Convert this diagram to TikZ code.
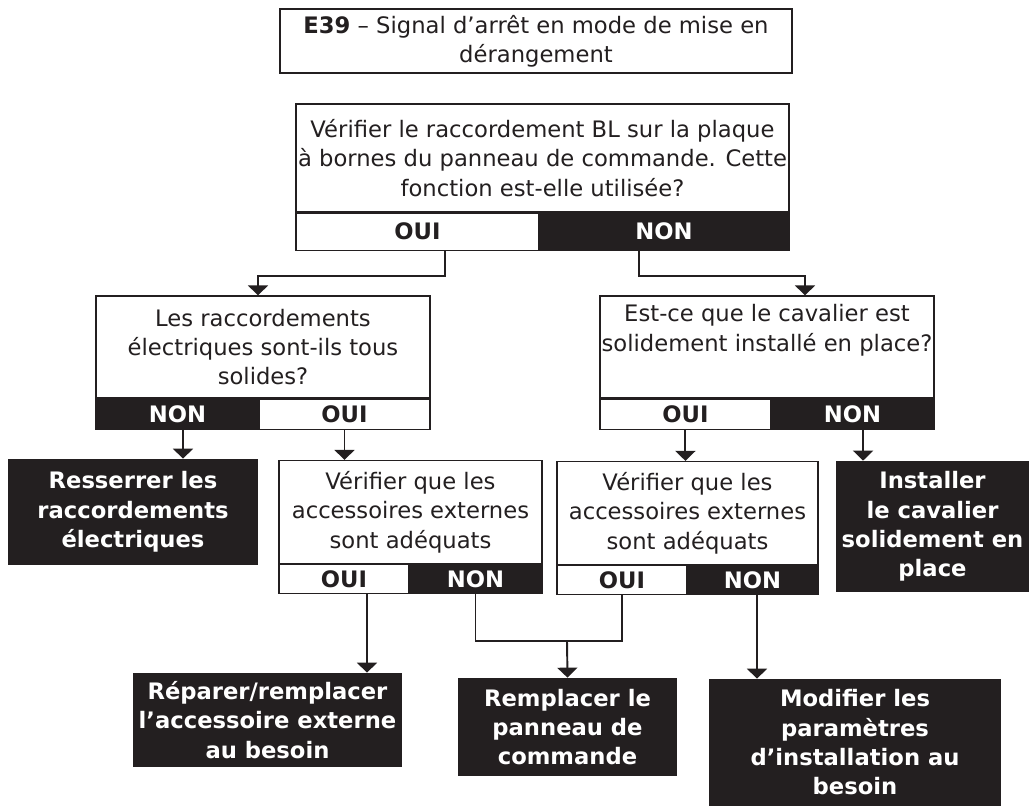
\documentclass[tikz,border=0pt]{standalone}
\usepackage{fontspec}
\setmainfont{DejaVu Sans}
\usepackage{xcolor}
\definecolor{panelblack}{RGB}{35,31,32}
\usepackage{tikz}
\usetikzlibrary{arrows.meta, positioning, calc}

\begin{document}
\begin{tikzpicture}[
  box/.style={draw=panelblack, line width=0.7pt, fill=white, align=center, inner xsep=1pt, inner ysep=0pt, font=\fontsize{12.9}{16.7}\selectfont, text=panelblack},
  act/.style={fill=panelblack, align=center, inner sep=0pt, font=\fontsize{12.9}{16.7}\selectfont\bfseries, text=white},
  oui/.style={draw=panelblack, line width=0.7pt, fill=white, inner sep=0pt, font=\fontsize{12.9}{16.7}\selectfont\bfseries, text=panelblack},
  non/.style={draw=panelblack, line width=0.7pt, fill=panelblack, inner sep=0pt, font=\fontsize{12.9}{16.7}\selectfont\bfseries, text=white},
  arr/.style={-{Triangle[width=0.4cm, length=0.2cm]}, line width=1.1pt, draw=panelblack},
  wire/.style={line width=1.1pt, draw=panelblack}
]
\useasboundingbox (0,0) rectangle (20.58,-16.12);

% Title
\node[box, line width=1.1pt, minimum width=10.24cm, minimum height=1.28cm] (TTL) at (10.72,-0.82) {\textbf{E39} – Signal d’arrêt en mode de mise en\\dérangement};

% First question
\node[box, minimum width=9.86cm, minimum height=2.16cm] (Q1) at (10.85,-3.16) {Vérifier le raccordement BL sur la plaque\\à bornes du panneau de commande. Cette\\fonction est-elle utilisée?};
\node[oui, minimum width=4.86cm, minimum height=0.74cm, below right=0cm and 0cm of Q1.south west] (Q1O) {OUI};
\node[non, minimum width=5cm, minimum height=0.74cm, below left=0cm and 0cm of Q1.south east] (Q1N) {NON};

% Second row of questions
\node[box, minimum width=6.68cm, minimum height=2.04cm] (Q2) at (5.26,-6.94) {Les raccordements\\électriques sont-ils tous\\solides?};
\node[non, minimum width=3.26cm, minimum height=0.6cm, below right=0cm and 0cm of Q2.south west] (Q2N) {NON};
\node[oui, minimum width=3.42cm, minimum height=0.6cm, below left=0cm and 0cm of Q2.south east] (Q2O) {OUI};

\node[box, minimum width=6.68cm, minimum height=2.04cm] (Q3) at (15.34,-6.94) {Est-ce que le cavalier est\\solidement installé en place?\\\strut};
\node[oui, minimum width=3.42cm, minimum height=0.6cm, below right=0cm and 0cm of Q3.south west] (Q3O) {OUI};
\node[non, minimum width=3.26cm, minimum height=0.6cm, below left=0cm and 0cm of Q3.south east] (Q3N) {NON};

% Third row
\node[act, minimum width=5cm, minimum height=2.12cm] (RR) at (2.66,-10.24) {Resserrer les\\raccordements\\électriques};

\node[box, minimum width=5.26cm, minimum height=2.06cm] (Q4) at (8.21,-10.24) {Vérifier que les\\accessoires externes\\sont adéquats};
\node[oui, minimum width=2.6cm, minimum height=0.58cm, below right=0cm and 0cm of Q4.south west] (Q4O) {OUI};
\node[non, minimum width=2.66cm, minimum height=0.58cm, below left=0cm and 0cm of Q4.south east] (Q4N) {NON};

\node[box, minimum width=5.22cm, minimum height=2.06cm] (Q5) at (13.75,-10.26) {Vérifier que les\\accessoires externes\\sont adéquats};
\node[oui, minimum width=2.6cm, minimum height=0.58cm, below right=0cm and 0cm of Q5.south west] (Q5O) {OUI};
\node[non, minimum width=2.62cm, minimum height=0.58cm, below left=0cm and 0cm of Q5.south east] (Q5N) {NON};

\node[act, minimum width=3.86cm, minimum height=2.62cm] (IC) at (18.65,-10.53) {Installer\\le cavalier\\solidement en\\place};

% Bottom row
\node[act, minimum width=5.38cm, minimum height=1.88cm] (RA) at (5.35,-14.4) {Réparer/remplacer\\l’accessoire externe\\au besoin};
\node[act, minimum width=4.38cm, minimum height=1.96cm] (RP) at (11.35,-14.54) {Remplacer le\\panneau de\\commande};
\node[act, minimum width=5.84cm, minimum height=2.54cm] (MP) at (17.1,-14.85) {Modifier les\\paramètres\\d’installation au\\besoin};

\coordinate (J) at (11.34,-12.82);

% Arrows
\draw[arr] ([xshift=0.55cm]Q1O.south) -- ++(0,-0.5) -| ([xshift=-0.1cm]Q2.north);
\draw[arr] ([xshift=-0.5cm]Q1N.south) -- ++(0,-0.5) -| ([xshift=0.76cm]Q3.north);

\draw[arr] ([xshift=0.11cm]Q2N.south) -- ([xshift=0.11cm]Q2N.south |- RR.north);
\draw[arr] (Q2O.south) -- (Q2O.south |- Q4.north);
\draw[arr] (Q3O.south) -- (Q3O.south |- Q5.north);
\draw[arr] ([xshift=0.21cm]Q3N.south) -- ([xshift=0.21cm]Q3N.south |- IC.north);

\draw[arr] ([xshift=0.46cm]Q4O.south) -- ([xshift=0.46cm]Q4O.south |- RA.north);
\draw[wire] (Q4N.south) |- (J) -| (Q5O.south);
\draw[arr] (J) -- (RP.north);
\draw[arr] ([xshift=0.09cm]Q5N.south) -- ([xshift=0.09cm]Q5N.south |- MP.north);

\end{tikzpicture}
\end{document}
